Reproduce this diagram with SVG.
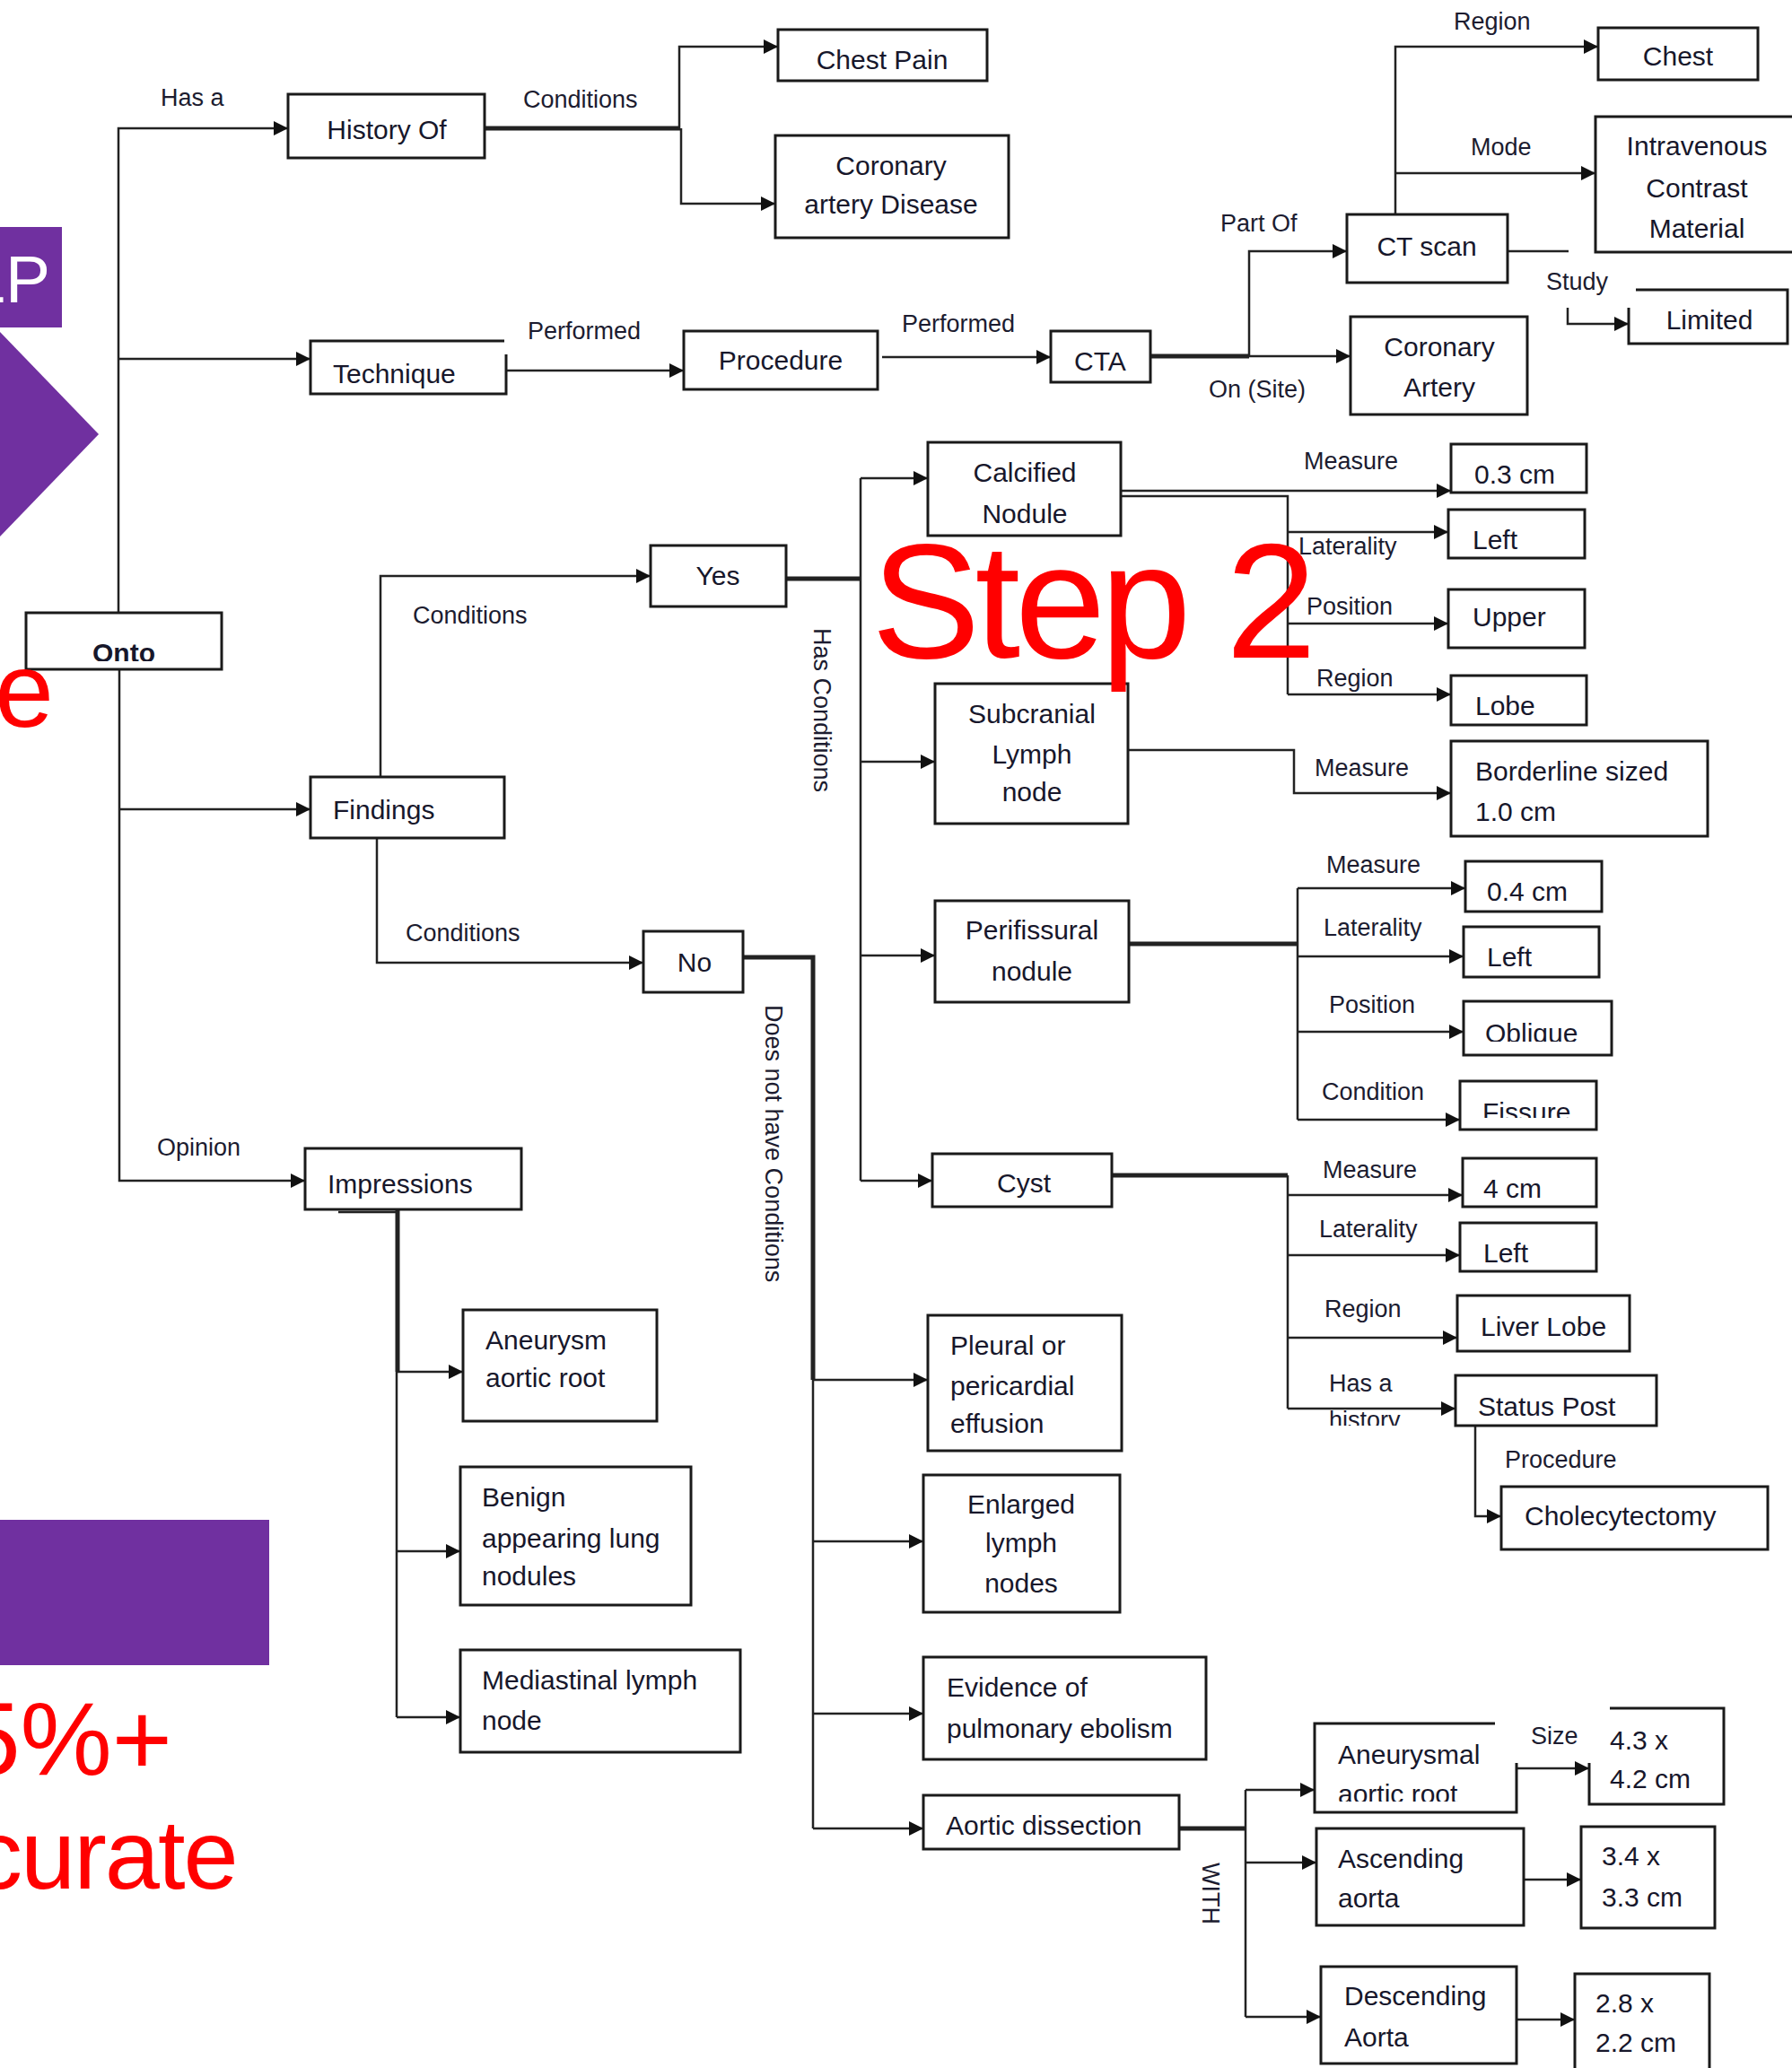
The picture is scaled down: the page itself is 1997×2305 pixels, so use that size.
<svg xmlns="http://www.w3.org/2000/svg" width="1997" height="2305" viewBox="0 0 1997 2305">
<defs>
<marker id="ah" markerWidth="16" markerHeight="16" refX="16" refY="8" orient="auto" markerUnits="userSpaceOnUse"><path d="M0,0 L16,8 L0,16 z" fill="#111"/></marker>
<clipPath id="cpOnto"><rect x="0" y="0" width="400" height="737"/></clipPath>
<clipPath id="cpPerf"><rect x="0" y="0" width="1997" height="371"/></clipPath>
<clipPath id="cpObl"><rect x="0" y="0" width="1997" height="1161"/></clipPath>
<clipPath id="cpFis"><rect x="0" y="0" width="1997" height="1246"/></clipPath>
<clipPath id="cpHist"><rect x="0" y="0" width="1997" height="1589"/></clipPath>
<clipPath id="cpRoot"><rect x="0" y="0" width="1997" height="2008"/></clipPath>
<style>
.box{fill:#fff;stroke:#1a1a1a;stroke-width:3}
.t{font-family:"Liberation Sans",Arial,sans-serif;font-size:30px;fill:#17172b}
.c{text-anchor:middle}
.lbl{font-family:"Liberation Sans",Arial,sans-serif;font-size:27px;fill:#1c1c30}
.ln{fill:none;stroke:#222;stroke-width:2.5}
.thk{stroke-width:5}
.arr{marker-end:url(#ah)}
.red{font-family:"Liberation Sans",Arial,sans-serif;fill:#ff0000}
</style>
</defs>
<rect width="1997" height="2305" fill="#fff"/>

<g id="slide-shapes">
<rect x="0" y="253" width="69" height="112" fill="#7030A0"/>
<text x="56" y="337" text-anchor="end" font-family="Liberation Sans,Arial,sans-serif" font-size="75" fill="#fff">LP</text>
<polygon points="0,370 110,484 0,598" fill="#7030A0"/>
<rect x="0" y="1694" width="300" height="162" fill="#7030A0"/>
</g>

<g id="connectors">
<path class="ln" d="M132,683 V143 H321" marker-end="url(#ah)"/>
<path class="ln arr" d="M132,400 H346"/>
<path class="ln" d="M133,746 V1316 H340" marker-end="url(#ah)"/>
<path class="ln arr" d="M133,902 H346"/>
<path class="ln thk" d="M540,143 H758"/>
<path class="ln arr" d="M757,143 V52 H867"/>
<path class="ln arr" d="M759,143 V227 H864"/>
<path class="ln arr" d="M564,413 H762"/>
<path class="ln arr" d="M983,398 H1171"/>
<path class="ln thk" d="M1282,397 H1392"/>
<path class="ln arr" d="M1392,397 V280 H1501"/>
<path class="ln arr" d="M1392,397 H1505"/>
<path class="ln arr" d="M1555,240 V52 H1781"/>
<path class="ln arr" d="M1555,193 H1778"/>
<path class="ln" d="M1680,280 H1748"/>
<path class="ln arr" d="M1747,343 V361 H1815"/>
<path class="ln arr" d="M424,866 V642 H725"/>
<path class="ln arr" d="M420,934 V1073 H717"/>
<path class="ln thk" d="M876,645 H959"/>
<path class="ln" d="M959,533 V1316"/>
<path class="ln arr" d="M959,533 H1034"/>
<path class="ln arr" d="M959,849 H1042"/>
<path class="ln arr" d="M959,1065 H1042"/>
<path class="ln arr" d="M959,1316 H1039"/>
<path class="ln thk" d="M828,1067 H906 V1538"/>
<path class="ln" d="M906,1538 V2038"/>
<path class="ln arr" d="M906,1538 H1034"/>
<path class="ln arr" d="M906,1718 H1029"/>
<path class="ln arr" d="M906,1910 H1029"/>
<path class="ln arr" d="M906,2038 H1029"/>
<path class="ln arr" d="M1249,547 H1617"/>
<path class="ln" d="M1249,553 H1435 V774"/>
<path class="ln arr" d="M1435,593 H1614"/>
<path class="ln arr" d="M1435,695 H1614"/>
<path class="ln arr" d="M1435,774 H1617"/>
<path class="ln arr" d="M1257,836 H1442 V884 H1617"/>
<path class="ln thk" d="M1258,1052 H1446"/>
<path class="ln" d="M1446,990 V1248"/>
<path class="ln arr" d="M1446,990 H1633"/>
<path class="ln arr" d="M1446,1066 H1631"/>
<path class="ln arr" d="M1446,1150 H1631"/>
<path class="ln arr" d="M1446,1248 H1627"/>
<path class="ln thk" d="M1239,1310 H1435"/>
<path class="ln" d="M1435,1310 V1570"/>
<path class="ln arr" d="M1435,1332 H1630"/>
<path class="ln arr" d="M1435,1399 H1627"/>
<path class="ln arr" d="M1435,1491 H1624"/>
<path class="ln arr" d="M1435,1570 H1622"/>
<path class="ln arr" d="M1644,1589 V1690 H1673"/>
<path class="ln thk" d="M443,1348 V1529"/>
<path class="ln" d="M442,1529 V1914"/>
<path class="ln" d="M377,1351 H443" stroke="#777"/>
<path class="ln arr" d="M443,1529 H516"/>
<path class="ln arr" d="M442,1729 H513"/>
<path class="ln arr" d="M442,1914 H513"/>
<path class="ln thk" d="M1314,2038 H1388"/>
<path class="ln" d="M1388,1995 V2248"/>
<path class="ln arr" d="M1388,1995 H1465"/>
<path class="ln arr" d="M1388,2076 H1467"/>
<path class="ln arr" d="M1388,2248 H1472"/>
<path class="ln arr" d="M1690,1971 H1771"/>
<path class="ln arr" d="M1698,2095 H1762"/>
<path class="ln arr" d="M1690,2251 H1755"/>
<text class="lbl" x="179" y="118" font-size="24">Has a</text>
<text class="lbl" x="583" y="120" font-size="29">Conditions</text>
<text class="lbl" x="588" y="378">Performed</text>
<text class="lbl" x="1005" y="370" clip-path="url(#cpPerf)">Performed</text>
<text class="lbl" x="1360" y="258">Part Of</text>
<text class="lbl" x="1347" y="443" font-size="26">On (Site)</text>
<text class="lbl" x="1620" y="33" font-size="26">Region</text>
<text class="lbl" x="1639" y="173">Mode</text>
<text class="lbl" x="1723" y="323">Study</text>
<text class="lbl" x="460" y="695" font-size="26">Conditions</text>
<text class="lbl" x="452" y="1049" font-size="26">Conditions</text>
<text class="lbl" x="175" y="1288">Opinion</text>
<text class="lbl" transform="translate(907,700) rotate(90)" font-size="26">Has Conditions</text>
<text class="lbl" transform="translate(853,1120) rotate(90)" font-size="26">Does not have Conditions</text>
<text class="lbl" transform="translate(1340,2076) rotate(90)" font-size="26">WITH</text>
<text class="lbl" x="1453" y="523">Measure</text>
<text class="lbl" x="1447" y="618">Laterality</text>
<text class="lbl" x="1456" y="685">Position</text>
<text class="lbl" x="1467" y="765">Region</text>
<text class="lbl" x="1465" y="865">Measure</text>
<text class="lbl" x="1478" y="973">Measure</text>
<text class="lbl" x="1475" y="1043">Laterality</text>
<text class="lbl" x="1481" y="1129">Position</text>
<text class="lbl" x="1473" y="1226">Condition</text>
<text class="lbl" x="1474" y="1313">Measure</text>
<text class="lbl" x="1470" y="1379">Laterality</text>
<text class="lbl" x="1476" y="1468">Region</text>
<text class="lbl" x="1481" y="1551">Has a</text>
<text class="lbl" x="1481" y="1592" clip-path="url(#cpHist)">history</text>
<text class="lbl" x="1677" y="1636">Procedure</text>
<text class="lbl" x="1706" y="1944" font-size="24">Size</text>
</g>

<g id="onto"><rect class="box" x="29" y="683" width="218" height="63"/><text class="t c" x="138" y="738" font-size="32" font-weight="bold" clip-path="url(#cpOnto)">Onto</text></g>
<g id="history-of"><rect class="box" x="321" y="105" width="219" height="71"/><text class="t c" x="431" y="155" font-size="33">History Of</text></g>
<g id="technique"><path class="box" d="M562,380 H346 V439 H564 V395"/><text class="t" x="371" y="427" font-size="33">Technique</text></g>
<g id="chest-pain"><rect class="box" x="867" y="33" width="233" height="57"/><text class="t c" x="983" y="77" font-size="29">Chest Pain</text></g>
<g id="cad"><rect class="box" x="864" y="151" width="260" height="114"/><text class="t c" x="993" y="195">Coronary</text><text class="t c" x="993" y="238">artery Disease</text></g>
<g id="procedure"><rect class="box" x="762" y="369" width="216" height="65"/><text class="t c" x="870" y="412">Procedure</text></g>
<g id="cta"><rect class="box" x="1171" y="369" width="111" height="57"/><text class="t c" x="1226" y="413" font-size="28">CTA</text></g>
<g id="ct-scan"><rect class="box" x="1501" y="239" width="179" height="76"/><text class="t c" x="1590" y="285" font-size="28">CT scan</text></g>
<g id="coronary-artery"><rect class="box" x="1505" y="353" width="197" height="109"/><text class="t c" x="1604" y="397">Coronary</text><text class="t c" x="1604" y="442">Artery</text></g>
<g id="chest"><rect class="box" x="1781" y="31" width="178" height="58"/><text class="t c" x="1870" y="73" font-size="29">Chest</text></g>
<g id="iv-contrast"><rect class="box" x="1778" y="130" width="230" height="151"/><text class="t c" x="1891" y="173">Intravenous</text><text class="t c" x="1891" y="220">Contrast</text><text class="t c" x="1891" y="265">Material</text></g>
<g id="limited"><path class="box" d="M1823,323 H1992 V383 H1815 V343"/><text class="t c" x="1905" y="367">Limited</text></g>
<g id="findings"><rect class="box" x="346" y="866" width="216" height="68"/><text class="t" x="371" y="913" font-size="32">Findings</text></g>
<g id="yes"><rect class="box" x="725" y="608" width="151" height="68"/><text class="t c" x="800" y="652" font-size="28">Yes</text></g>
<g id="no"><rect class="box" x="717" y="1038" width="111" height="68"/><text class="t c" x="774" y="1083" font-size="29">No</text></g>
<g id="calcified-nodule"><rect class="box" x="1034" y="493" width="215" height="104"/><text class="t c" x="1142" y="537">Calcified</text><text class="t c" x="1142" y="583">Nodule</text></g>
<g id="subcranial"><rect class="box" x="1042" y="762" width="215" height="156"/><text class="t c" x="1150" y="806">Subcranial</text><text class="t c" x="1150" y="851">Lymph</text><text class="t c" x="1150" y="893">node</text></g>
<g id="perifissural"><rect class="box" x="1042" y="1004" width="216" height="113"/><text class="t c" x="1150" y="1047">Perifissural</text><text class="t c" x="1150" y="1093">nodule</text></g>
<g id="cyst"><rect class="box" x="1039" y="1286" width="200" height="59"/><text class="t c" x="1141" y="1329">Cyst</text></g>
<g id="v-03cm"><rect class="box" x="1617" y="495" width="151" height="54"/><text class="t" x="1643" y="539">0.3 cm</text></g>
<g id="left-1"><rect class="box" x="1614" y="568" width="152" height="54"/><text class="t" x="1641" y="612">Left</text></g>
<g id="upper"><rect class="box" x="1614" y="657" width="152" height="65"/><text class="t" x="1641" y="698">Upper</text></g>
<g id="lobe"><rect class="box" x="1617" y="753" width="151" height="55"/><text class="t" x="1644" y="797">Lobe</text></g>
<g id="borderline"><rect class="box" x="1617" y="826" width="286" height="106"/><text class="t" x="1644" y="870">Borderline sized</text><text class="t" x="1644" y="915">1.0 cm</text></g>
<g id="v-04cm"><rect class="box" x="1633" y="960" width="152" height="56"/><text class="t" x="1657" y="1004">0.4 cm</text></g>
<g id="left-2"><rect class="box" x="1631" y="1033" width="151" height="56"/><text class="t" x="1657" y="1077">Left</text></g>
<g id="oblique"><rect class="box" x="1631" y="1116" width="165" height="60"/><text class="t" x="1655" y="1162" clip-path="url(#cpObl)">Oblique</text></g>
<g id="fissure"><rect class="box" x="1627" y="1205" width="152" height="54"/><text class="t" x="1652" y="1250" clip-path="url(#cpFis)">Fissure</text></g>
<g id="v-4cm"><rect class="box" x="1630" y="1291" width="149" height="54"/><text class="t" x="1653" y="1335">4 cm</text></g>
<g id="left-3"><rect class="box" x="1627" y="1363" width="152" height="54"/><text class="t" x="1653" y="1407">Left</text></g>
<g id="liver-lobe"><rect class="box" x="1624" y="1444" width="192" height="62"/><text class="t" x="1650" y="1489">Liver Lobe</text></g>
<g id="status-post"><rect class="box" x="1622" y="1533" width="224" height="56"/><text class="t" x="1647" y="1578">Status Post</text></g>
<g id="cholecytectomy"><rect class="box" x="1673" y="1657" width="297" height="70"/><text class="t" x="1699" y="1700">Cholecytectomy</text></g>
<g id="impressions"><rect class="box" x="340" y="1280" width="241" height="68"/><text class="t" x="365" y="1330" font-size="33">Impressions</text></g>
<g id="aneurysm-aortic-root"><rect class="box" x="516" y="1460" width="216" height="124"/><text class="t" x="541" y="1504">Aneurysm</text><text class="t" x="541" y="1546">aortic root</text></g>
<g id="benign"><rect class="box" x="513" y="1635" width="257" height="154"/><text class="t" x="537" y="1679">Benign</text><text class="t" x="537" y="1725">appearing lung</text><text class="t" x="537" y="1767">nodules</text></g>
<g id="mediastinal"><rect class="box" x="513" y="1839" width="312" height="114"/><text class="t" x="537" y="1883">Mediastinal lymph</text><text class="t" x="537" y="1928">node</text></g>
<g id="pleural"><rect class="box" x="1034" y="1466" width="216" height="151"/><text class="t" x="1059" y="1510">Pleural or</text><text class="t" x="1059" y="1555">pericardial</text><text class="t" x="1059" y="1597">effusion</text></g>
<g id="enlarged"><rect class="box" x="1029" y="1644" width="219" height="153"/><text class="t c" x="1138" y="1687">Enlarged</text><text class="t c" x="1138" y="1730">lymph</text><text class="t c" x="1138" y="1775">nodes</text></g>
<g id="evidence"><rect class="box" x="1029" y="1847" width="315" height="114"/><text class="t" x="1055" y="1891">Evidence of</text><text class="t" x="1055" y="1937">pulmonary ebolism</text></g>
<g id="aortic-dissection"><rect class="box" x="1029" y="2001" width="285" height="60"/><text class="t" x="1054" y="2045">Aortic dissection</text></g>
<g id="aneurysmal"><path class="box" d="M1666,1921 H1465 V2020 H1690 V1965"/><text class="t" x="1491" y="1966">Aneurysmal</text><text class="t" x="1491" y="2010" clip-path="url(#cpRoot)">aortic root</text></g>
<g id="size-43"><path class="box" d="M1794,1904 H1921 V2011 H1771 V1965"/><text class="t" x="1794" y="1950">4.3 x</text><text class="t" x="1794" y="1993">4.2 cm</text></g>
<g id="ascending"><rect class="box" x="1467" y="2038" width="231" height="108"/><text class="t" x="1491" y="2082">Ascending</text><text class="t" x="1491" y="2126">aorta</text></g>
<g id="size-34"><rect class="box" x="1762" y="2036" width="149" height="113"/><text class="t" x="1785" y="2079">3.4 x</text><text class="t" x="1785" y="2125">3.3 cm</text></g>
<g id="descending"><rect class="box" x="1472" y="2192" width="218" height="108"/><text class="t" x="1498" y="2235">Descending</text><text class="t" x="1498" y="2281">Aorta</text></g>
<g id="size-28"><rect class="box" x="1755" y="2200" width="150" height="120"/><text class="t" x="1778" y="2243">2.8 x</text><text class="t" x="1778" y="2287">2.2 cm</text></g>

<g id="red-overlay">
<text class="red" x="971" y="733" font-size="182" letter-spacing="-6">Step 2</text>
<text class="red" x="60" y="810" font-size="118" text-anchor="end">e</text>
<text class="red" x="192" y="1978" font-size="115" text-anchor="end">5%+</text>
<text class="red" x="-30" y="2105" font-size="110" letter-spacing="-2">curate</text>
</g>
</svg>
